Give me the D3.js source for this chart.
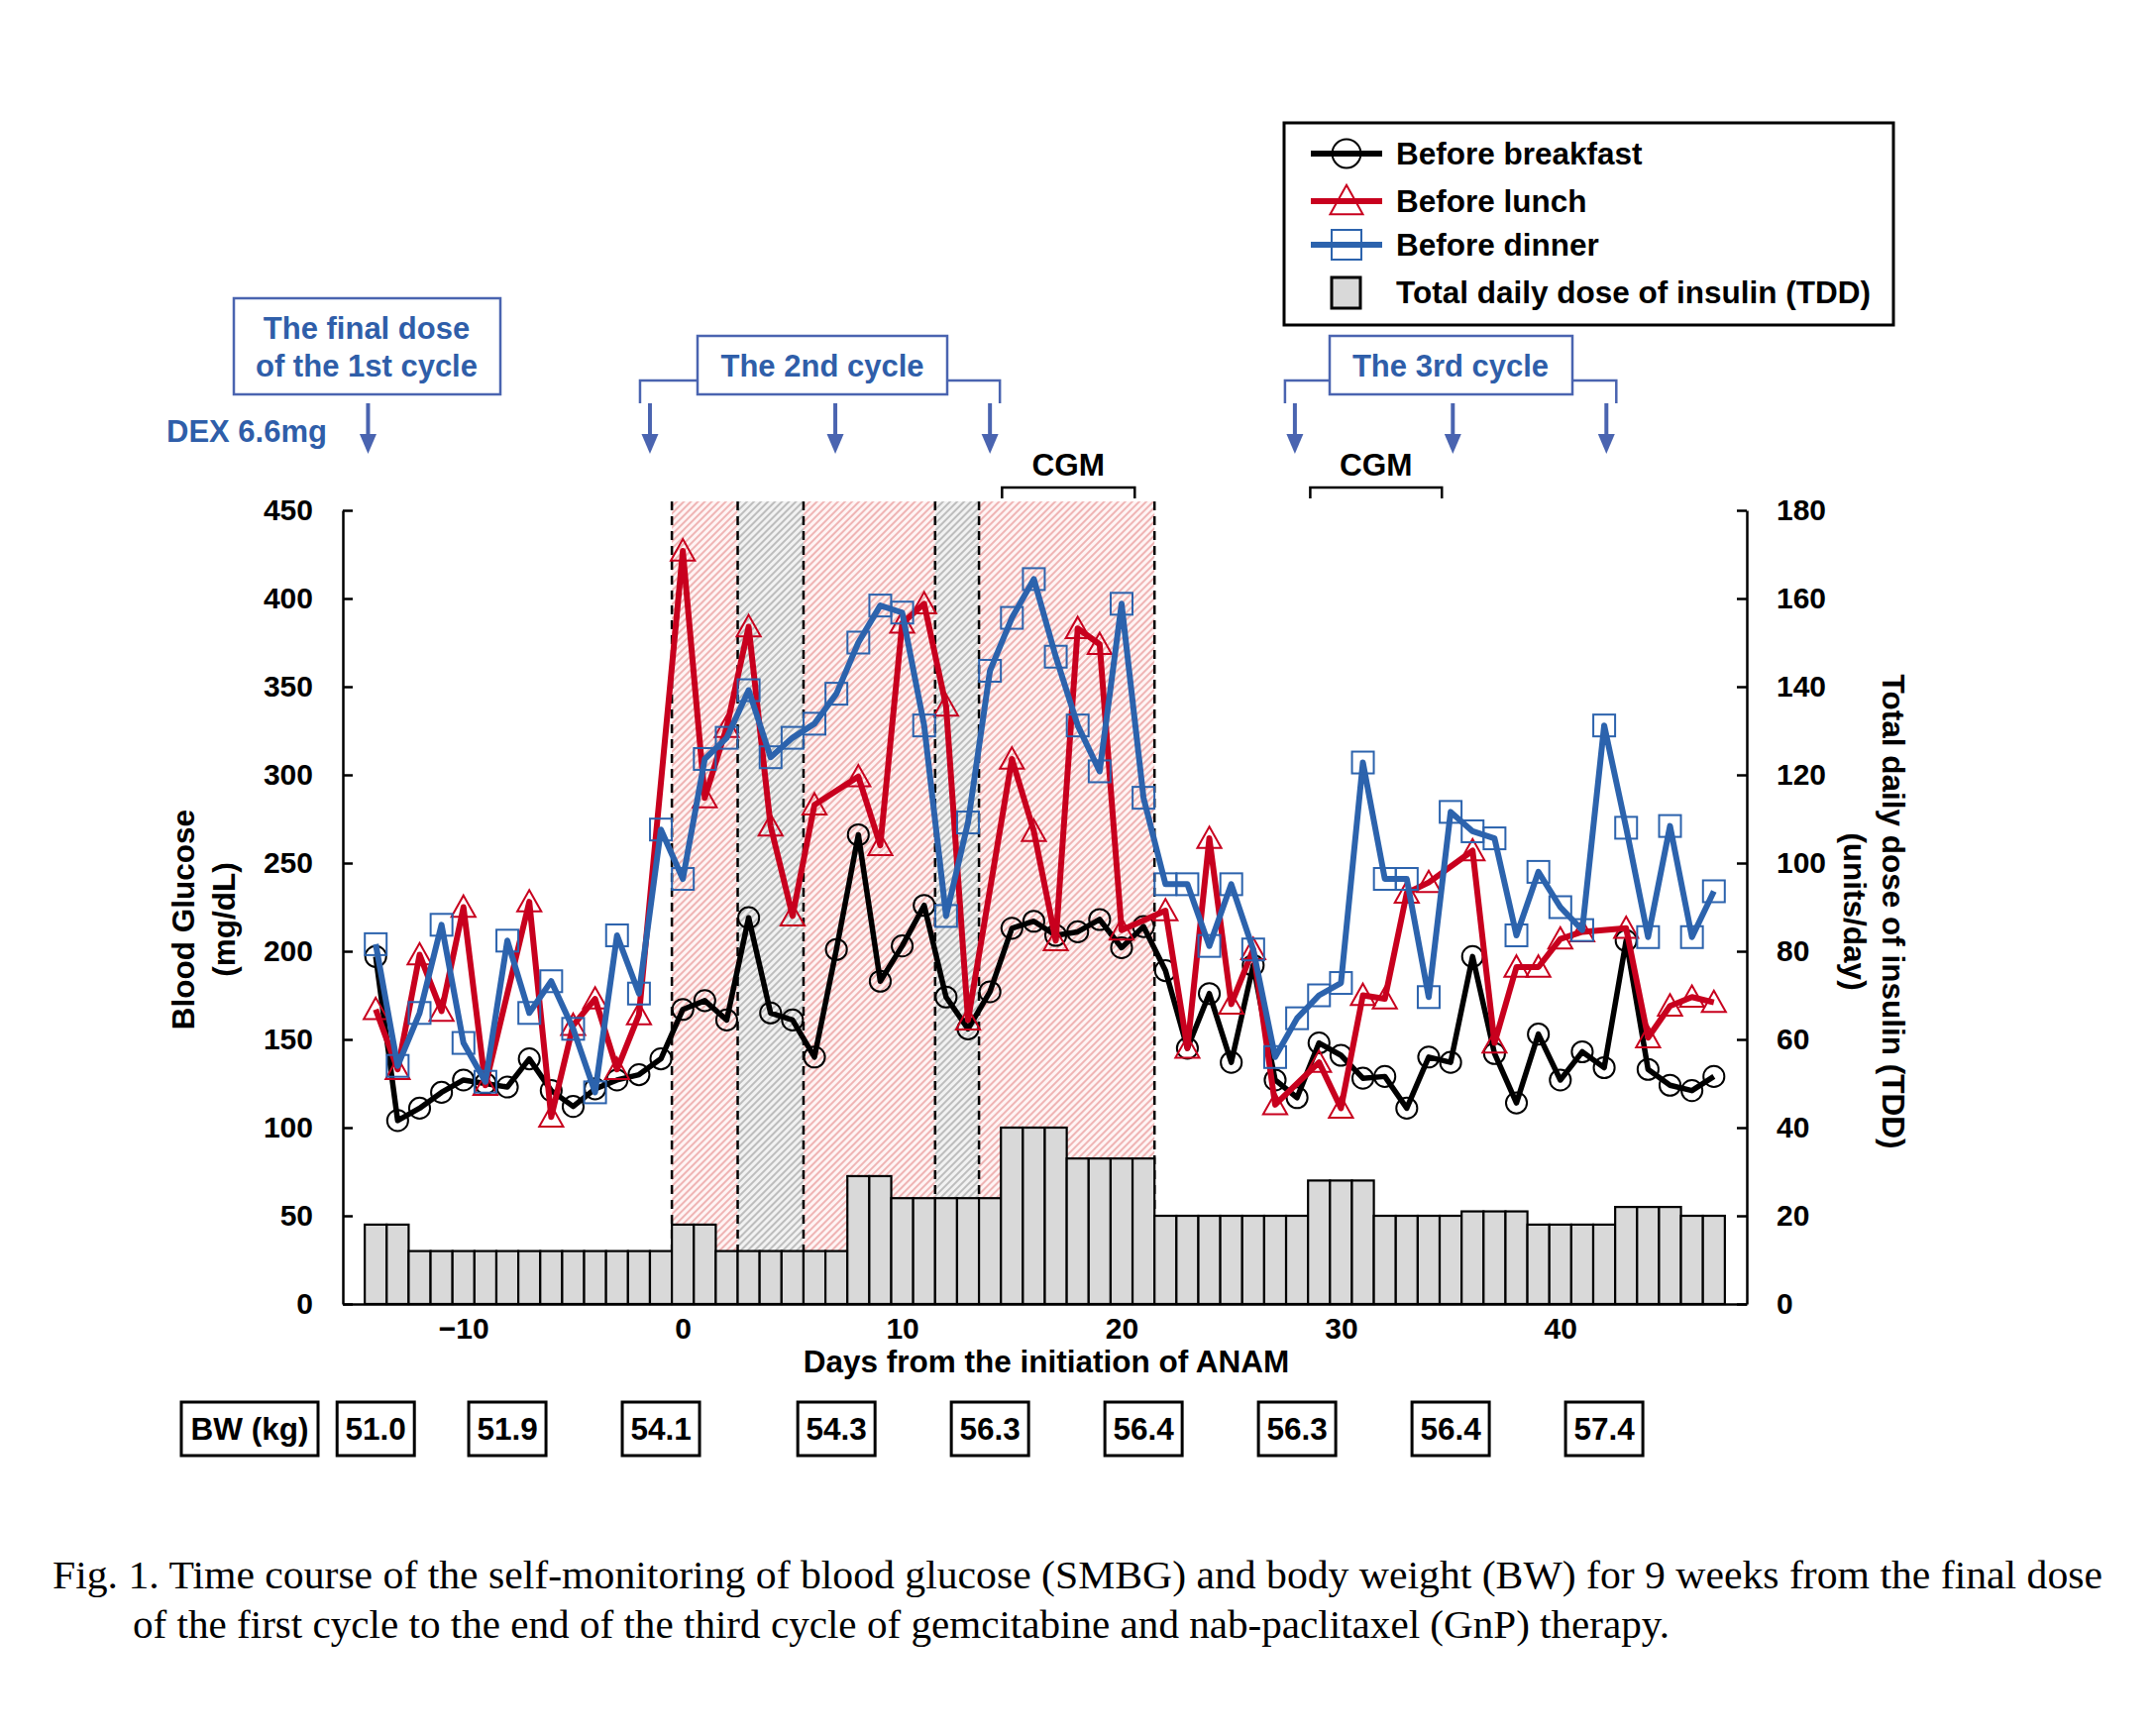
<!DOCTYPE html>
<html>
<head>
<meta charset="utf-8">
<script src="https://cdn.jsdelivr.net/npm/d3@7"></script>
<style>
  body { margin: 0; background: #fff; }
  svg { display: block; font-family: "Liberation Sans", Arial, sans-serif; }
  .axis text { font-size: 30px; font-weight: bold; fill: #000; }
  .axis path, .axis line { stroke: #000; stroke-width: 2.5; }
  .lbl { font-size: 31.5px; font-weight: bold; }
  .note { font-size: 31px; font-weight: bold; fill: #2f5ea9; }
</style>
</head>
<body>
<svg id="chart" width="2175" height="1752"></svg>
<script>
// days from the initiation of ANAM
var days = [-14, -13, -12, -11, -10, -9, -8, -7, -6, -5, -4, -3, -2, -1,
  0, 1, 2, 3, 4, 5, 6, 7, 8, 9, 10, 11, 12, 13, 14, 15, 16, 17, 18, 19,
  20, 21, 22, 23, 24, 25, 26, 27, 28, 29, 30, 31, 32, 33, 34, 35, 36, 37,
  38, 39, 40, 41, 42, 43, 44, 45, 46, 47]

// blood glucose (mg/dL), null = not measured
var breakfast = [197, 104, 111, 120, 127, 125, 123, 139, 121, 112, 122, 127, 130, 139,
  167, 172, 161, 219, 165, 161, 140, 201, 266, 183, 203, 226, 174, 156, 177, 213, 217, 209, 211, 218,
  202, 214, 189, 145, 176, 137, 192, 127, 117, 148, 141, 128, 129, 111, 140, 137, 197, 142,
  114, 153, 127, 143, 134, 206, 133, 124, 121, 129]
var lunch = [167, 133, 198, 166, 225, 124, null, 228, 106, 158, 173, 133, 164, null,
  427, 287, 327, 384, 271, 220, 283, null, 299, 260, 386, 397, 339, 161, null, 309, 268, 206, 383, 374,
  212, null, 223, 145, 264, 170, 201, 113, null, 137, 111, 175, 173, 233, 239, null, 257, 148,
  191, 191, 207, 211, null, 213, 151, 169, 174, 171]
var dinner = [204, 135, 165, 215, 148, 126, 206, 165, 183, 156, 120, 209, 176, 269,
  241, 309, 321, 348, 310, 321, 329, 346, 375, 396, 392, 328, 220, 273, 359, 389, 411, 367, 328, 302,
  397, 287, 238, 238, 203, 238, 201, 140, 162, 175, 182, 307, 241, 241, 174, 279, 268, 264,
  209, 245, 225, 212, 328, 270, 208, 271, 208, 234]

// total daily dose of insulin (units/day)
var tdd = [18, 18, 12, 12, 12, 12, 12, 12, 12, 12, 12, 12, 12, 12,
  18, 18, 12, 12, 12, 12, 12, 12, 29, 29, 24, 24, 24, 24, 24, 40, 40, 40, 33, 33,
  33, 33, 20, 20, 20, 20, 20, 20, 20, 28, 28, 28, 20, 20, 20, 20, 21, 21,
  21, 18, 18, 18, 18, 22, 22, 22, 20, 20]

// hatched periods [from, to, kind]
var periods = [[-0.5, 2.5, "red"], [2.5, 5.5, "gray"], [5.5, 11.5, "red"],
  [11.5, 13.5, "gray"], [13.5, 21.5, "red"]]
var dashDays = [-0.5, 2.5, 5.5, 11.5, 13.5, 21.5]

// body weight
var bwDays = [-14, -8, -1, 7, 14, 21, 28, 35, 42]
var bwValues = ["51.0", "51.9", "54.1", "54.3", "56.3", "56.4", "56.3", "56.4", "57.4"]

// DEX arrows and CGM periods
var cycle1Arrow = [-14.35]
var cycle2Arrows = [-1.5, 6.95, 14.0]
var cycle3Arrows = [27.9, 35.1, 42.1]
var cgmRanges = [[14.55, 20.6], [28.6, 34.6]]

var glucoseTicks = [0, 50, 100, 150, 200, 250, 300, 350, 400, 450]
var tddTicks = [0, 20, 40, 60, 80, 100, 120, 140, 160, 180]
var dayTicks = [-10, 0, 10, 20, 30, 40]

var BLACK = "#000", RED = "#c8001e", BLUE = "#2c63ad", NOTE = "#4a64b0"

var svg = d3.select("#chart")
svg.append("rect").attr("width", 2175).attr("height", 1752).attr("fill", "#fff")

var x = d3.scaleLinear().domain([-15.5, 48.5]).range([346, 1763])
var yL = d3.scaleLinear().domain([0, 450]).range([1316, 515])
var yR = d3.scaleLinear().domain([0, 180]).range([1316, 515])

// hatch patterns
var defs = svg.append("defs")
function hatch(id, bg, fg) {
  var p = defs.append("pattern").attr("id", id)
    .attr("patternUnits", "userSpaceOnUse")
    .attr("width", 5).attr("height", 5)
    .attr("patternTransform", "rotate(45)")
  p.append("rect").attr("width", 5).attr("height", 5).attr("fill", bg)
  p.append("line").attr("x1", 1).attr("y1", 0).attr("x2", 1).attr("y2", 5)
    .attr("stroke", fg).attr("stroke-width", 1.2)
}
hatch("hatchRed", "#fff4f4", "#e58a8a")
hatch("hatchGray", "#f2f2f2", "#9a9a9a")

svg.append("g").selectAll("rect").data(periods).enter().append("rect")
  .attr("x", function(d) { return x(d[0]) })
  .attr("width", function(d) { return x(d[1]) - x(d[0]) })
  .attr("y", yL(455))
  .attr("height", yL(0) - yL(455))
  .attr("fill", function(d) { return d[2] == "red" ? "url(#hatchRed)" : "url(#hatchGray)" })

svg.append("g").selectAll("line").data(dashDays).enter().append("line")
  .attr("x1", function(d) { return x(d) }).attr("x2", function(d) { return x(d) })
  .attr("y1", yL(455)).attr("y2", yL(0))
  .attr("stroke", "#000").attr("stroke-width", 2.5).attr("stroke-dasharray", "9,6")

// TDD bars
svg.append("g").selectAll("rect").data(tdd).enter().append("rect")
  .attr("x", function(d, i) { return x(days[i] - 0.5) })
  .attr("width", function(d, i) { return x(days[i] + 0.5) - x(days[i] - 0.5) })
  .attr("y", function(d) { return yR(d) })
  .attr("height", function(d) { return yR(0) - yR(d) })
  .attr("fill", "#d9d9d9").attr("stroke", "#000").attr("stroke-width", 2.2)

// glucose series
function pts(values) {
  var out = []
  for (var i = 0; i < values.length; i++) {
    if (values[i] != null) out.push({ day: days[i], v: values[i] })
  }
  return out
}
var line = d3.line().x(function(d) { return x(d.day) }).y(function(d) { return yL(d.v) })

var series = [
  { data: pts(breakfast), color: BLACK, width: 5.5, shape: "circle" },
  { data: pts(lunch), color: RED, width: 6, shape: "triangle" },
  { data: pts(dinner), color: BLUE, width: 6, shape: "square" }
]

function marker(g, shape, color, size) {
  if (shape == "circle") {
    g.append("circle").attr("r", size * 0.48)
  } else if (shape == "triangle") {
    var w = size * 1.1, h = size * 0.98
    g.append("path").attr("d", "M0," + (-h * 0.55) + "L" + (w / 2) + "," + (h * 0.45) + "L" + (-w / 2) + "," + (h * 0.45) + "Z")
  } else {
    g.append("rect").attr("x", -size / 2).attr("y", -size / 2).attr("width", size).attr("height", size)
  }
  g.selectAll("*").attr("fill", "none").attr("stroke", color).attr("stroke-width", 2)
}

series.forEach(function(s) {
  var g = svg.append("g")
  g.append("path").datum(s.data).attr("d", line)
    .attr("fill", "none").attr("stroke", s.color).attr("stroke-width", s.width)
    .attr("stroke-linejoin", "round")
  g.selectAll("g.m").data(s.data).enter().append("g").attr("class", "m")
    .attr("transform", function(d) { return "translate(" + x(d.day) + "," + yL(d.v) + ")" })
    .each(function() { marker(d3.select(this), s.shape, s.color, 22) })
})

// axes
svg.append("g").attr("class", "axis")
  .attr("transform", "translate(346,0)")
  .call(d3.axisLeft(yL).tickValues(glucoseTicks).tickSizeInner(-10).tickSizeOuter(0).tickPadding(30))
svg.append("g").attr("class", "axis")
  .attr("transform", "translate(1763,0)")
  .call(d3.axisRight(yR).tickValues(tddTicks).tickSizeInner(-10).tickSizeOuter(0).tickPadding(30))
svg.append("g").attr("class", "axis")
  .attr("transform", "translate(0,1316)")
  .call(d3.axisBottom(x).tickValues(dayTicks).tickSize(0).tickPadding(14))

// axis titles
svg.append("text").attr("class", "lbl").attr("text-anchor", "middle")
  .attr("transform", "translate(196,928) rotate(-90)").text("Blood Glucose")
svg.append("text").attr("class", "lbl").attr("text-anchor", "middle")
  .attr("transform", "translate(237,928) rotate(-90)").text("(mg/dL)")
svg.append("text").attr("class", "lbl").attr("text-anchor", "middle")
  .attr("transform", "translate(1900,920) rotate(90)").text("Total daily dose of insulin (TDD)")
svg.append("text").attr("class", "lbl").attr("text-anchor", "middle")
  .attr("transform", "translate(1861,920) rotate(90)").text("(units/day)")
svg.append("text").attr("class", "lbl").attr("text-anchor", "middle")
  .attr("x", 1056).attr("y", 1385).text("Days from the initiation of ANAM")

// annotations: boxes, brackets, arrows
function noteBox(x0, y0, w, h) {
  svg.append("rect").attr("x", x0).attr("y", y0).attr("width", w).attr("height", h)
    .attr("fill", "#fff").attr("stroke", NOTE).attr("stroke-width", 2.5)
}
function arrow(d) {
  var cx = x(d)
  svg.append("line").attr("x1", cx).attr("x2", cx).attr("y1", 407).attr("y2", 442)
    .attr("stroke", NOTE).attr("stroke-width", 4)
  svg.append("path").attr("d", "M" + (cx - 8.5) + ",438L" + (cx + 8.5) + ",438L" + cx + ",458Z")
    .attr("fill", NOTE)
}
function bracket(d0, d1, yTop) {
  var x0 = x(d0) - 10, x1 = x(d1) + 10
  svg.append("path")
    .attr("d", "M" + x0 + ",407V" + yTop + "H" + x1 + "V407")
    .attr("fill", "none").attr("stroke", NOTE).attr("stroke-width", 2.5)
}

noteBox(236, 301, 269, 97)
svg.append("text").attr("class", "note").attr("text-anchor", "middle")
  .attr("x", 370).attr("y", 342).text("The final dose")
svg.append("text").attr("class", "note").attr("text-anchor", "middle")
  .attr("x", 370).attr("y", 380).text("of the 1st cycle")
svg.append("text").attr("class", "note").attr("text-anchor", "start")
  .attr("x", 168).attr("y", 446).text("DEX 6.6mg")
cycle1Arrow.forEach(arrow)

bracket(cycle2Arrows[0], cycle2Arrows[2], 384)
noteBox(704, 339, 252, 59)
svg.append("text").attr("class", "note").attr("text-anchor", "middle")
  .attr("x", 830).attr("y", 380).text("The 2nd cycle")
cycle2Arrows.forEach(arrow)

bracket(cycle3Arrows[0], cycle3Arrows[2], 384)
noteBox(1342, 339, 245, 59)
svg.append("text").attr("class", "note").attr("text-anchor", "middle")
  .attr("x", 1464).attr("y", 380).text("The 3rd cycle")
cycle3Arrows.forEach(arrow)

cgmRanges.forEach(function(r) {
  var x0 = x(r[0]), x1 = x(r[1])
  svg.append("path").attr("d", "M" + x0 + ",503V492H" + x1 + "V503")
    .attr("fill", "none").attr("stroke", "#000").attr("stroke-width", 2.5)
  svg.append("text").attr("class", "lbl").attr("text-anchor", "middle")
    .attr("x", (x0 + x1) / 2).attr("y", 480).text("CGM")
})

// legend
var legend = svg.append("g")
legend.append("rect").attr("x", 1296).attr("y", 124).attr("width", 615).attr("height", 204)
  .attr("fill", "#fff").attr("stroke", "#000").attr("stroke-width", 3)
var legendItems = [
  { label: "Before breakfast", color: BLACK, shape: "circle", y: 155 },
  { label: "Before lunch", color: RED, shape: "triangle", y: 203 },
  { label: "Before dinner", color: BLUE, shape: "square", y: 247 },
  { label: "Total daily dose of insulin (TDD)", color: "#000", shape: "bar", y: 295 }
]
legendItems.forEach(function(it) {
  if (it.shape == "bar") {
    legend.append("rect").attr("x", 1344).attr("y", it.y - 15).attr("width", 29).attr("height", 31)
      .attr("fill", "#d9d9d9").attr("stroke", "#000").attr("stroke-width", 3)
  } else {
    legend.append("line").attr("x1", 1323).attr("x2", 1395).attr("y1", it.y).attr("y2", it.y)
      .attr("stroke", it.color).attr("stroke-width", 6)
    var g = legend.append("g").attr("transform", "translate(1359," + it.y + ")")
    marker(g, it.shape, it.color, 30)
  }
  legend.append("text").attr("class", "lbl").attr("x", 1409).attr("y", it.y + 11).text(it.label)
})

// body weight row
svg.append("rect").attr("x", 183).attr("y", 1415).attr("width", 138).attr("height", 54)
  .attr("fill", "#fff").attr("stroke", "#000").attr("stroke-width", 3)
svg.append("text").attr("class", "lbl").attr("text-anchor", "middle")
  .attr("x", 252).attr("y", 1453).text("BW (kg)")
var bw = svg.append("g").selectAll("g").data(bwValues).enter().append("g")
  .attr("transform", function(d, i) { return "translate(" + x(bwDays[i]) + ",0)" })
bw.append("rect").attr("x", -39).attr("y", 1415).attr("width", 78).attr("height", 54)
  .attr("fill", "#fff").attr("stroke", "#000").attr("stroke-width", 3)
bw.append("text").attr("class", "lbl").attr("text-anchor", "middle")
  .attr("y", 1453).text(function(d) { return d })

// caption
svg.append("text").attr("x", 53).attr("y", 1603)
  .attr("font-family", "Liberation Serif, Times New Roman, serif").attr("font-size", 40)
  .attr("textLength", 2069).attr("lengthAdjust", "spacingAndGlyphs")
  .text("Fig. 1.  Time course of the self-monitoring of blood glucose (SMBG) and body weight (BW) for 9 weeks from the final dose")
svg.append("text").attr("x", 134).attr("y", 1653)
  .attr("font-family", "Liberation Serif, Times New Roman, serif").attr("font-size", 40)
  .attr("textLength", 1551).attr("lengthAdjust", "spacingAndGlyphs")
  .text("of the first cycle to the end of the third cycle of gemcitabine and nab-paclitaxel (GnP) therapy.")
</script>
</body>
</html>
